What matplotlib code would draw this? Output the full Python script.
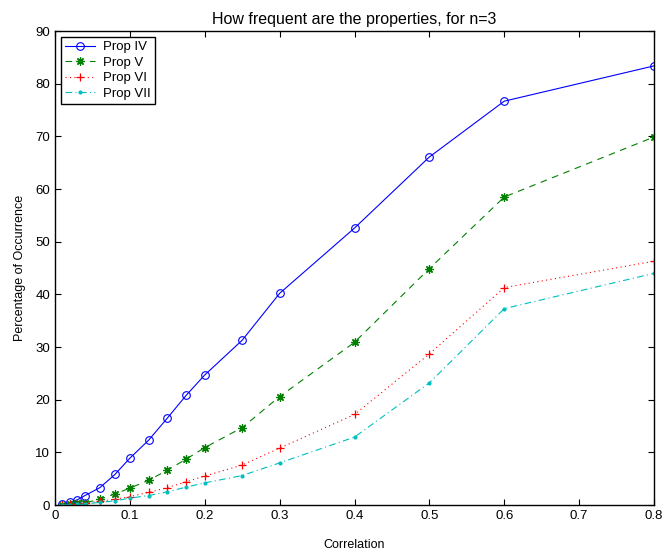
import matplotlib
matplotlib.use("Agg")
import matplotlib.pyplot as plt

# ---------------------------------------------------------------------------
# data
# ---------------------------------------------------------------------------
corr = [0.01, 0.02, 0.03, 0.04, 0.06, 0.08, 0.1, 0.125, 0.15, 0.175,
        0.2, 0.25, 0.3, 0.4, 0.5, 0.6, 0.8]

prop_iv = [0.1, 0.5, 1.0, 1.8, 3.3, 5.8, 8.9, 12.3, 16.5, 20.8,
           24.7, 31.3, 40.2, 52.6, 66.1, 76.7, 83.4]
prop_v = [0.05, 0.1, 0.3, 0.4, 1.1, 2.1, 3.2, 4.7, 6.6, 8.7,
          10.9, 14.7, 20.6, 30.9, 44.9, 58.5, 69.9]
prop_vi = [0.05, 0.1, 0.2, 0.3, 0.7, 1.1, 1.6, 2.4, 3.3, 4.4,
           5.5, 7.6, 10.8, 17.2, 28.7, 41.3, 46.3]
prop_vii = [0.03, 0.05, 0.1, 0.2, 0.5, 0.8, 1.3, 1.8, 2.5, 3.4,
            4.2, 5.6, 8.0, 12.9, 23.2, 37.3, 44.0]

labels = ["Prop IV", "Prop V", "Prop VI", "Prop VII"]

plt.rcParams.update({
    "font.family": ["Liberation Sans", "DejaVu Sans"],
    "font.size": 9,
    "xtick.direction": "in",
    "ytick.direction": "in",
    "xtick.top": True,
    "ytick.right": True,
})

fig = plt.figure(figsize=(6.65, 5.56), dpi=100)
ax = fig.add_axes([0.0827, 0.0917, 0.9008, 0.8523])

ax.plot(corr, prop_iv, color="#0000ff", linestyle="-", linewidth=0.8,
        marker="o", markersize=5.5, markerfacecolor="none", markeredgewidth=0.8,
        label=labels[0])
ax.plot(corr, prop_v, color="#008000", linestyle=(0, (6, 5)), linewidth=0.8,
        marker=(8, 2, 0), markersize=6, markeredgewidth=0.9, label=labels[1])
ax.plot(corr, prop_vi, color="#ff0000", linestyle=(0, (1, 3)), linewidth=0.8,
        marker="+", markersize=6, markeredgewidth=0.9, label=labels[2])
ax.plot(corr, prop_vii, color="#00bfbf", linestyle=(0, (6, 3, 1, 3)), linewidth=0.8,
        marker=".", markersize=4, label=labels[3])

ax.set_xlim(0, 0.8)
ax.set_ylim(0, 90)
ax.set_xticks([0, 0.1, 0.2, 0.3, 0.4, 0.5, 0.6, 0.7, 0.8])
ax.set_xticklabels(["0", "0.1", "0.2", "0.3", "0.4", "0.5", "0.6", "0.7", "0.8"])
ax.set_yticks(range(0, 91, 10))
ax.tick_params(length=4, width=0.8, labelsize=9.5)
for s in ax.spines.values():
    s.set_linewidth(1.0)

ax.set_xlabel("Correlation", fontsize=9, labelpad=12)
ax.set_ylabel("Percentage of Occurrence", fontsize=9, labelpad=7)
ax.set_title("How frequent are the properties, for n=3", fontsize=11.5, pad=5)

leg = ax.legend(loc="upper left", fancybox=False, edgecolor="black",
                framealpha=1, fontsize=9.5, handlelength=2.3, handletextpad=0.6,
                borderpad=0.3, labelspacing=0.25, borderaxespad=0.45)
leg.get_frame().set_linewidth(1.0)

fig.savefig("out.png", dpi=100)
